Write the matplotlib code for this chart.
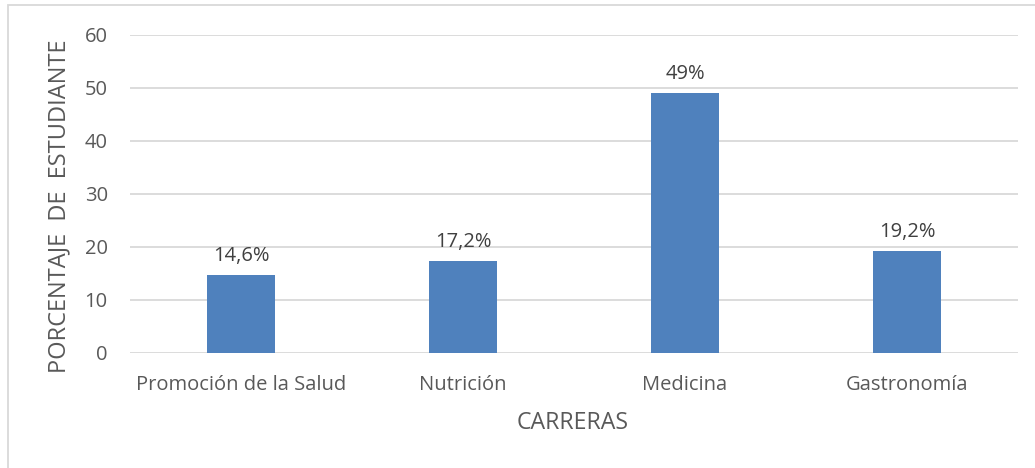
import matplotlib.pyplot as plt
from matplotlib.patches import Rectangle

carreras = ["Promoción de la Salud", "Nutrición", "Medicina", "Gastronomía"]
porcentajes = [14.6, 17.2, 49.0, 19.2]
etiquetas = ["14,6%", "17,2%", "49%", "19,2%"]

plt.rcParams["font.family"] = ["Open Sans", "DejaVu Sans"]
txt = "#595959"
fs = 14.5

fig = plt.figure(figsize=(10.35, 4.68), dpi=100)
ax = fig.add_axes([130 / 1035, 1 - 352.5 / 468, 888 / 1035, 318 / 468])

x = range(len(carreras))
ax.bar(x, porcentajes, width=0.31, color="#4F81BD", zorder=3)
for i, (v, s) in enumerate(zip(porcentajes, etiquetas)):
    ax.annotate(s, (i, v), xytext=(0, 6.5), textcoords="offset points",
                ha="center", va="bottom", fontsize=fs, color="#404040")

ax.set_xlim(-0.5, 3.5)
ax.set_ylim(0, 60)
ax.set_yticks(range(0, 61, 10))
ax.set_xticks(list(x))
ax.set_xticklabels(carreras)
ax.tick_params(axis="both", length=0, labelsize=fs, labelcolor=txt)
ax.tick_params(axis="x", pad=16)
ax.tick_params(axis="y", pad=16)
ax.grid(axis="y", color="#D9D9D9", linewidth=1.3, zorder=0)
for sp in ax.spines.values():
    sp.set_visible(False)

# axis titles placed directly
fig.text(573 / 1035, 1 - 423 / 468, "CARRERAS", ha="center", va="center",
         fontsize=16.7, color=txt)
fig.text(59 / 1035, 1 - 206 / 468, "PORCENTAJE  DE  ESTUDIANTE", rotation=90,
         ha="center", va="center", fontsize=17, color=txt)

fig.patches.append(Rectangle((8 / 1035, -0.1), 1.2, 1 - 5 / 468 + 0.1,
                             transform=fig.transFigure, fill=False,
                             edgecolor="#D9D9D9", linewidth=1.3))

fig.savefig("out.png", dpi=100)
